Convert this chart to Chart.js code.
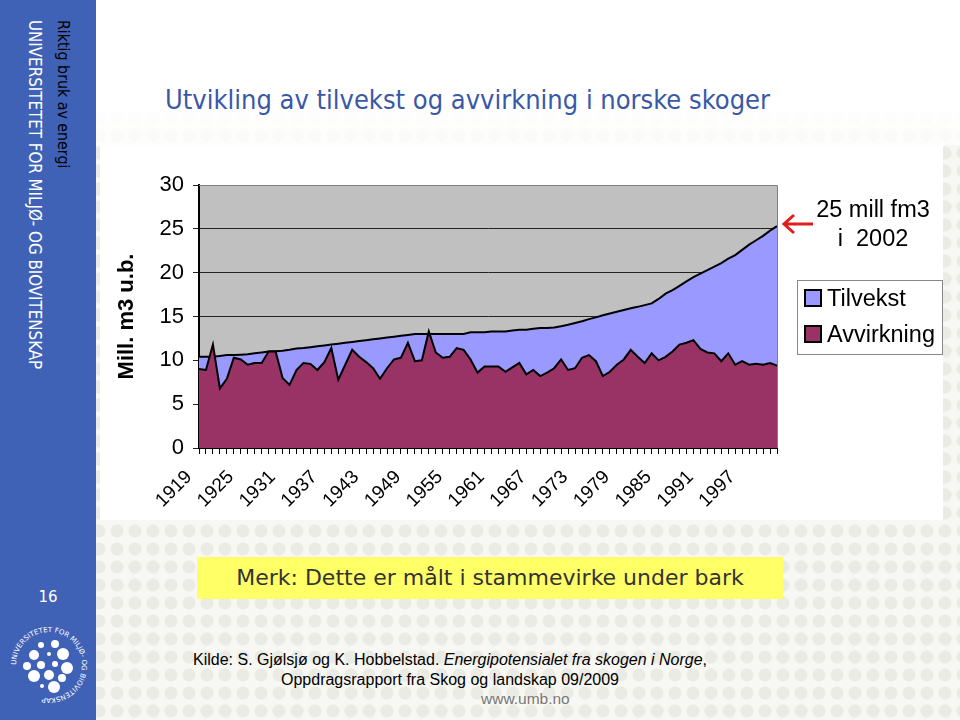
<!DOCTYPE html>
<html>
<head>
<meta charset="utf-8">
<script src="https://cdn.jsdelivr.net/npm/chart.js@4.4.1/dist/chart.umd.min.js"></script>
<style>
  body { margin: 0; }
  #slide {
    position: relative; width: 960px; height: 720px; overflow: hidden;
    background-color: #f7f7f3;
    background-image: radial-gradient(circle, #ebebe5 6px, transparent 7px);
    background-size: 18px 18px;
    font-family: "Liberation Sans", Arial, sans-serif;
  }
  #topfade { position: absolute; left: 96px; top: 0; width: 864px; height: 145px;
    background: linear-gradient(#ffffff, #ffffff 70%, rgba(255,255,255,0.7)); }
  #side { position: absolute; left: 0; top: 0; width: 96px; height: 720px; background: #3f62b7; }
  .vtext { position: absolute; transform-origin: 0 0; transform: rotate(90deg); white-space: nowrap;
    font-family: "DejaVu Sans Condensed", "DejaVu Sans", sans-serif; }
  #pagenr { position: absolute; left: 0; width: 96px; top: 588px; text-align: center; color: #fff;
    font-family: "DejaVu Sans", sans-serif; font-size: 15px; }
  #title { position: absolute; left: 165px; top: 84px; color: #3a58a8; white-space: nowrap;
    font-family: "DejaVu Sans Condensed", "DejaVu Sans", sans-serif; font-size: 27px; }
  #chartbox { position: absolute; left: 100px; top: 145px; width: 843px; height: 375px; background: #fff; }
  #wrap { position: absolute; left: 100px; top: 150px; width: 700px; height: 370px; }
  #note { position: absolute; left: 813px; top: 195px; width: 120px; text-align: center; font-size: 23.5px; line-height: 29px; color: #000; white-space: nowrap; }
  #legend { position: absolute; left: 797px; top: 280px; width: 144px; height: 73px; border: 1px solid #888; background: #fff; }
  .li { position: absolute; left: 6px; font-size: 23.5px; color: #000; white-space: nowrap; }
  .sw { display: inline-block; width: 14px; height: 14px; border: 2px solid #000; margin-right: 5px; vertical-align: -1px; }
  #merk { position: absolute; left: 197px; top: 557px; width: 586px; height: 42px; background: #ffff66;
    text-align: center; line-height: 42px; color: #333; white-space: nowrap;
    font-family: "DejaVu Sans", sans-serif; font-size: 22px; }
  #kilde { position: absolute; left: 193px; top: 650px; font-size: 16px; line-height: 20px; color: #000; white-space: nowrap; }
  #url { position: absolute; left: 481px; top: 690px; font-size: 15.5px; color: #777; }
</style>
</head>
<body>
<div id="slide">
  <div id="topfade"></div>
  <div id="side">
    <div class="vtext" style="left:73px; top:20px; color:#000; font-size:15.8px;">Riktig bruk av energi</div>
    <div class="vtext" style="left:45px; top:20px; color:#fff; font-size:16.8px;">UNIVERSITETET FOR MILJØ- OG BIOVITENSKAP</div>
    <div id="pagenr">16</div>
    <svg style="position:absolute; left:8px; top:624px;" width="82" height="82" viewBox="0 0 82 82">
      <defs><path id="ring" d="M41,41 m-33,0 a33,33 0 1,1 66,0 a33,33 0 1,1 -66,0"/></defs>
      <text font-size="7" fill="#fff" font-family="DejaVu Sans"><textPath href="#ring">UNIVERSITETET FOR MILJØ- OG BIOVITENSKAP</textPath></text>
      <g fill="#fff">
        <circle cx="33" cy="21" r="3"/><circle cx="47" cy="20" r="4"/><circle cx="26" cy="31" r="5"/>
        <circle cx="41" cy="30" r="2"/><circle cx="55" cy="30" r="6"/><circle cx="19" cy="42" r="4"/>
        <circle cx="33" cy="41" r="4"/><circle cx="47" cy="40" r="3"/><circle cx="59" cy="44" r="6"/>
        <circle cx="26" cy="52" r="6"/><circle cx="41" cy="51" r="5"/><circle cx="54" cy="54" r="4"/>
        <circle cx="34" cy="62" r="2"/><circle cx="46" cy="63" r="6"/>
      </g>
    </svg>
  </div>
  <div id="title">Utvikling av tilvekst og avvirkning i norske skoger</div>
  <div id="chartbox"></div>
  <div id="wrap"><canvas id="chart"></canvas></div>
  <svg style="position:absolute; left:780px; top:212px;" width="36" height="24">
    <path d="M33,12 L4,12 M14,3 L4,12 L14,21" stroke="#e21c1c" stroke-width="3" fill="none"/>
  </svg>
  <div id="note">25 mill fm3<br>i&nbsp; 2002</div>
  <div id="legend">
    <div class="li" style="top:4px;"><span class="sw" style="background:#9999ff"></span>Tilvekst</div>
    <div class="li" style="top:40px;"><span class="sw" style="background:#993366"></span>Avvirkning</div>
  </div>
  <div id="merk">Merk: Dette er målt i stammevirke under bark</div>
  <div id="kilde">Kilde: S. Gjølsjø og K. Hobbelstad. <i>Energipotensialet fra skogen i Norge</i>,<br>
    <span style="padding-left:88px">Oppdragsrapport fra Skog og landskap 09/2009</span></div>
  <div id="url">www.umb.no</div>
</div>
<script>
// years 1919 - 2002
const years = [];
for (let y = 1919; y <= 2002; y++) years.push(String(y));

// Tilvekst (mill. m3 u.b.)
const tilvekst = [
  10.4, 10.4, 10.4, 10.5, 10.6, 10.6, 10.65, 10.7, 10.8, 10.9,
  11.0, 11.05, 11.1, 11.2, 11.35, 11.4, 11.5, 11.6, 11.7, 11.8,
  11.9, 12.0, 12.1, 12.2, 12.3, 12.4, 12.5, 12.6, 12.7, 12.8,
  12.9, 13.0, 13.0, 13.0, 13.0, 13.0, 13.0, 13.0, 13.0, 13.2,
  13.2, 13.2, 13.3, 13.3, 13.3, 13.4, 13.5, 13.5, 13.6, 13.7,
  13.7, 13.75, 13.9, 14.05, 14.25, 14.45, 14.7, 14.9, 15.15, 15.35,
  15.55, 15.75, 15.95, 16.1, 16.3, 16.5, 17.0, 17.6, 18.0, 18.5,
  19.0, 19.5, 19.9, 20.3, 20.7, 21.1, 21.6, 22.0, 22.6, 23.2,
  23.7, 24.2, 24.8, 25.3
];

// Avvirkning (mill. m3 u.b.)
const avvirkning = [
  9.0, 8.9, 11.8, 6.8, 7.9, 10.3, 10.1, 9.5, 9.7, 9.7,
  11.0, 11.0, 8.0, 7.2, 8.9, 9.7, 9.6, 8.9, 9.8, 11.4,
  7.8, 9.5, 11.2, 10.4, 9.8, 9.1, 7.9, 9.1, 10.1, 10.3,
  12.0, 9.9, 10.0, 13.3, 10.9, 10.3, 10.4, 11.4, 11.2, 10.1,
  8.6, 9.3, 9.3, 9.3, 8.7, 9.2, 9.7, 8.4, 8.9, 8.2,
  8.6, 9.1, 10.1, 8.9, 9.1, 10.3, 10.6, 9.9, 8.2, 8.7,
  9.5, 10.1, 11.2, 10.4, 9.7, 10.8, 10.0, 10.4, 11.0, 11.8,
  12.0, 12.3, 11.3, 10.9, 10.8, 9.9, 10.8, 9.5, 9.9, 9.5,
  9.6, 9.5, 9.7, 9.4
];

const yTicks = [0, 5, 10, 15, 20, 25, 30];

const plotBg = {
  id: 'plotBg',
  beforeDraw(chart) {
    const a = chart.chartArea, ctx = chart.ctx;
    ctx.save();
    ctx.fillStyle = '#c0c0c0';
    ctx.fillRect(a.left, a.top, a.right - a.left, a.bottom - a.top);
    ctx.restore();
  },
  afterDraw(chart) {
    const a = chart.chartArea, ctx = chart.ctx;
    ctx.save();
    ctx.strokeStyle = '#808080';
    ctx.lineWidth = 1;
    ctx.beginPath();
    ctx.moveTo(a.left, a.top + 0.5); ctx.lineTo(a.right + 0.5, a.top + 0.5); ctx.lineTo(a.right + 0.5, a.bottom);
    ctx.stroke();
    ctx.restore();
  }
};

new Chart(document.getElementById('chart'), {
  type: 'line',
  data: {
    labels: years,
    datasets: [{
      label: 'Tilvekst',
      data: tilvekst,
      backgroundColor: '#9999ff',
      borderColor: '#000',
      borderWidth: 2,
      fill: 'origin',
      pointRadius: 0,
      tension: 0,
      order: 2
    }, {
      label: 'Avvirkning',
      data: avvirkning,
      backgroundColor: '#993366',
      borderColor: '#000',
      borderWidth: 2,
      fill: 'origin',
      pointRadius: 0,
      tension: 0,
      order: 1
    }]
  },
  options: {
    responsive: true,
    maintainAspectRatio: false,
    animation: false,
    layout: { padding: { top: 35, right: 23, left: 0, bottom: 0 } },
    plugins: { legend: { display: false }, tooltip: { enabled: false } },
    scales: {
      x: {
        offset: false,
        grid: { drawOnChartArea: false, color: '#000', tickLength: 6 },
        border: { color: '#000', width: 2 },
        ticks: {
          autoSkip: false, maxRotation: 45, minRotation: 45, padding: 12, labelOffset: -10,
          color: '#000', font: { family: 'Liberation Sans, Arial', size: 19 },
          callback: function(v, i) { return (i % 6 === 0) ? years[i] : ''; }
        },
        afterFit: function(s) { s.height = 72; s.paddingLeft = 0; s.paddingRight = 0; }
      },
      y: {
        min: 0, max: 30,
        afterBuildTicks: function(s) { s.ticks = yTicks.map(v => ({ value: v })); },
        grid: { color: '#222', tickLength: 6 },
        border: { color: '#000', width: 2 },
        ticks: { padding: 9, color: '#000', font: { family: 'Liberation Sans, Arial', size: 22 } },
        title: {
          display: true, text: 'Mill. m3 u.b.', color: '#000',
          font: { family: 'Liberation Sans, Arial', size: 22, weight: 'bold' },
          padding: { top: 14, bottom: 0 }
        },
        afterFit: function(s) { s.width = 99; }
      }
    }
  },
  plugins: [plotBg]
});
</script>
</body>
</html>
